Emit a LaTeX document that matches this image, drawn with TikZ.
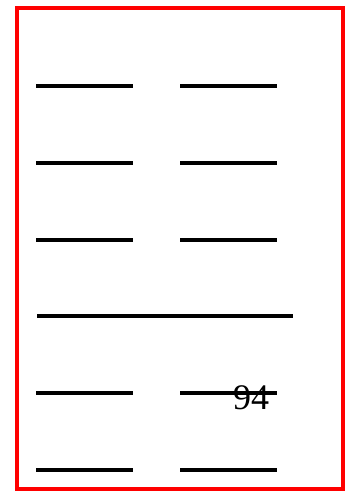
\documentclass[tikz,border=0pt]{standalone}
\usepackage{fontspec}
\setmainfont{Liberation Serif}
\begin{document}
\begin{tikzpicture}[x=1pt,y=-1pt,
  bar/.style={line width=3.5pt,black},
  frame/.style={draw=red,line width=3.5pt}]
\useasboundingbox (0,0) rectangle (350,491);
\draw[frame] (17,8) rectangle (343,489);
% rows
\foreach \y/\n in {86/a,163/b,240/c,393/e,470/f}{
  \coordinate (L1\n) at (36,\y); \coordinate (L2\n) at (133,\y);
  \coordinate (R1\n) at (180,\y); \coordinate (R2\n) at (277,\y);
  \draw[bar] (L1\n) -- (L2\n);
  \draw[bar] (R1\n) -- (R2\n);
}
\coordinate (M1) at (37,316); \coordinate (M2) at (293,316);
\draw[bar] (M1) -- (M2);
\node[font=\fontsize{36}{36}\selectfont,anchor=base,inner sep=0pt] (t) at (251,409) {94};
\end{tikzpicture}
\end{document}
